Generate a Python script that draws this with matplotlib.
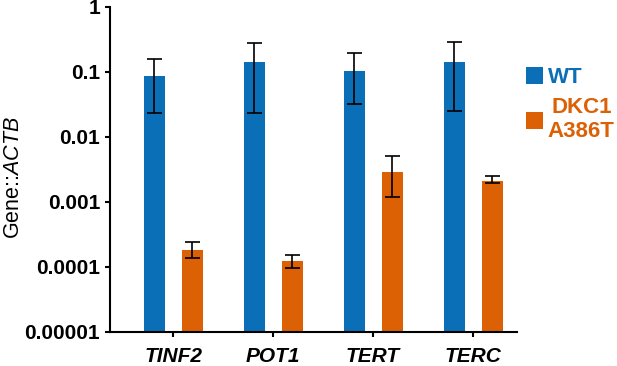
import numpy as np
import matplotlib.pyplot as plt
from matplotlib.ticker import FixedLocator, FixedFormatter, NullLocator

plt.rcParams['font.family'] = ['Liberation Sans', 'DejaVu Sans']
plt.rcParams['mathtext.fontset'] = 'custom'
plt.rcParams['mathtext.it'] = 'Liberation Sans:italic'
plt.rcParams['mathtext.rm'] = 'Liberation Sans'

genes = ["TINF2", "POT1", "TERT", "TERC"]
wt = [0.087, 0.144, 0.105, 0.144]
wt_hi = [0.16, 0.28, 0.198, 0.286]
wt_lo = [0.0237, 0.023, 0.032, 0.0248]
dkc = [0.000175, 0.000115, 0.00292, 0.0021]
dkc_hi = [0.00024, 0.000151, 0.00515, 0.00254]
dkc_lo = [0.000136, 0.0000955, 0.00118, 0.00198]
yticks = [1e-5, 1e-4, 1e-3, 1e-2, 1e-1, 1]
ytick_labels = ["0.00001", "0.0001", "0.001", "0.01", "0.1", "1"]

blue = "#0a6fb6"
orange = "#dc6004"

fig = plt.figure(figsize=(6.17, 3.66), dpi=100)
ax = fig.add_axes([0.1783, 0.0929, 0.838 - 0.1783, 0.9809 - 0.0929])

x = np.arange(len(genes))
w = 0.21
off = 0.19
wt = np.array(wt); dkc = np.array(dkc)
wt_err = [wt - np.array(wt_lo), np.array(wt_hi) - wt]
dkc_err = [dkc - np.array(dkc_lo), np.array(dkc_hi) - dkc]

b1 = ax.bar(x - off, wt, w, color=blue, bottom=1e-5, label="WT")
b2 = ax.bar(x + off, dkc, w, color=orange, bottom=1e-5, label="DKC1\nA386T")
ax.errorbar(x - off, wt, yerr=wt_err, fmt="none", ecolor="black",
            elinewidth=1.2, capsize=5.4, capthick=1.2)
ax.errorbar(x + off, dkc, yerr=dkc_err, fmt="none", ecolor="black",
            elinewidth=1.2, capsize=5.4, capthick=1.2)

ax.set_yscale("log")
ax.set_ylim(1e-5, 1)
ax.set_xlim(-0.63, 3.44)
ax.yaxis.set_major_locator(FixedLocator(yticks))
ax.yaxis.set_major_formatter(FixedFormatter(ytick_labels))
ax.yaxis.set_minor_locator(NullLocator())
ax.set_xticks(x)
ax.set_xticklabels(genes, fontsize=15, fontweight="bold", fontstyle="italic")
for lab in ax.get_yticklabels():
    lab.set_fontsize(15)
    lab.set_fontweight("bold")

for s in ["top", "right"]:
    ax.spines[s].set_visible(False)
for s in ["left", "bottom"]:
    ax.spines[s].set_linewidth(1.5)
ax.tick_params(axis="both", width=1.5, length=3.6)
ax.tick_params(axis="y", pad=3.6)
ax.tick_params(axis="x", pad=7.5)

ax.set_ylabel(r"Gene::$\mathit{ACTB}$", fontsize=15.5)
ax.yaxis.set_label_coords(-0.212, 0.475)

leg = ax.legend(handles=[b1, b2], loc="upper left", bbox_to_anchor=(1.021, 0.815),
                borderaxespad=0, borderpad=0, frameon=False,
                handlelength=0.8, handleheight=0.8,
                handletextpad=0.2, labelspacing=0.4,
                prop={"size": 16, "weight": "bold"})
for t, c in zip(leg.get_texts(), [blue, orange]):
    t.set_color(c)
    t.set_multialignment("center")

fig.savefig("out.png", dpi=100)
